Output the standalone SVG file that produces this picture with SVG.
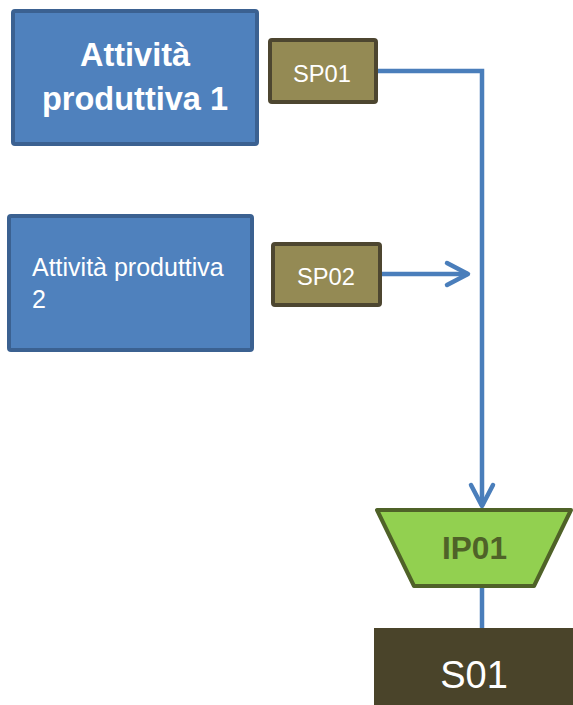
<svg xmlns="http://www.w3.org/2000/svg" width="573" height="705" viewBox="0 0 573 705">
  <style>
    .activity { fill: #4f81bd; stroke: #3b6191; stroke-width: 4; }
    .point { fill: #948a54; stroke: #4d4630; stroke-width: 4; }
    .wire { fill: none; stroke: #4a7ebb; stroke-width: 4.5; }
    .txt { font-family: "Liberation Sans", Arial, sans-serif; text-anchor: middle; }
    .white { fill: #ffffff; }
  </style>
  <defs>
    <marker id="chevron" markerUnits="userSpaceOnUse" markerWidth="30" markerHeight="30" viewBox="-26 -15 30 30" refX="0" refY="0" orient="auto" overflow="visible">
      <path d="M-21,-11 L0,0 L-21,11" fill="none" stroke="#4a7ebb" stroke-width="4.5" stroke-linecap="round" stroke-linejoin="round"/>
    </marker>
  </defs>

  <rect width="573" height="705" fill="#ffffff"/>

  <g id="connectors">
    <path class="wire" d="M378,71 H482 V506" marker-end="url(#chevron)"/>
    <path class="wire" d="M382,274 H468" marker-end="url(#chevron)"/>
    <path class="wire" d="M482,588 V628"/>
  </g>

  <g id="attivita1">
    <rect class="activity" x="13" y="11" width="244" height="133" rx="2"/>
    <text class="txt white" x="135" y="66" font-size="32.5" font-weight="bold">Attività</text>
    <text class="txt white" x="135" y="110" font-size="32.5" font-weight="bold">produttiva 1</text>
  </g>

  <g id="sp01">
    <rect class="point" x="270" y="40" width="106" height="62" rx="2"/>
    <text class="txt white" x="322" y="82" font-size="23.7">SP01</text>
  </g>

  <g id="attivita2">
    <rect class="activity" x="9" y="216" width="243" height="134" rx="2"/>
    <text class="white" x="32" y="276" font-size="25" font-family="Liberation Sans, Arial, sans-serif">Attività produttiva</text>
    <text class="white" x="32" y="308" font-size="25" font-family="Liberation Sans, Arial, sans-serif">2</text>
  </g>

  <g id="sp02">
    <rect class="point" x="273" y="244" width="107" height="61" rx="2"/>
    <text class="txt white" x="326" y="285" font-size="23.7">SP02</text>
  </g>

  <g id="ip01">
    <polygon points="377,510 571,510 534,586 414,586" fill="#92d050" stroke="#4f6228" stroke-width="4" stroke-linejoin="round"/>
    <text class="txt" x="474.5" y="559" font-size="31.6" font-weight="bold" fill="#4f6228">IP01</text>
  </g>

  <g id="s01">
    <rect x="374" y="628" width="199" height="77" fill="#4a442a"/>
    <text class="txt white" x="474" y="688" font-size="38">S01</text>
  </g>
</svg>
